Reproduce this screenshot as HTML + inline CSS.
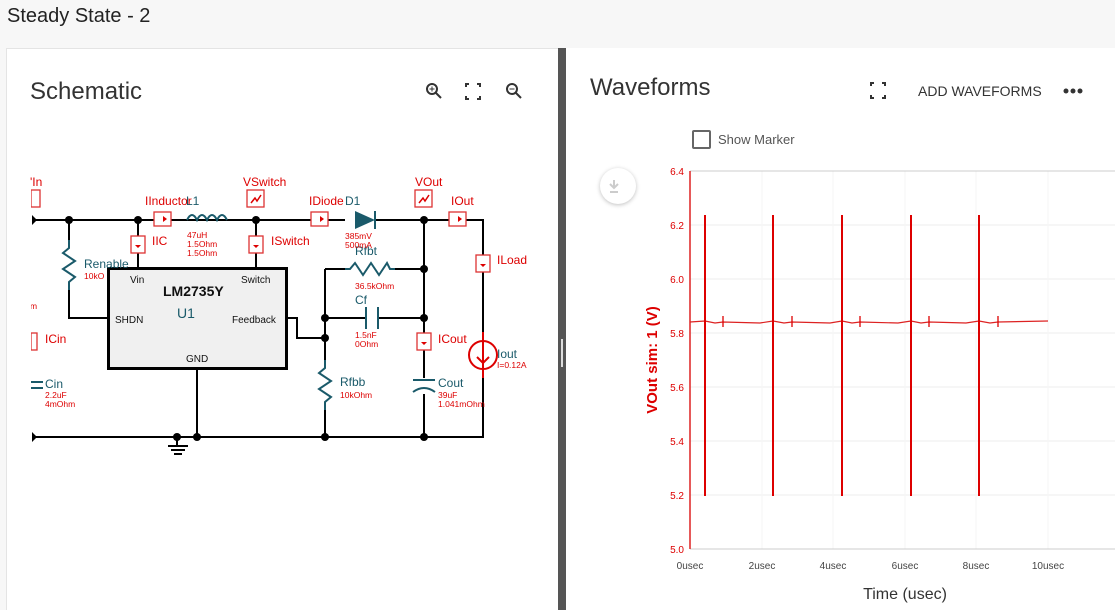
<!DOCTYPE html>
<html><head><meta charset="utf-8"><style>
*{margin:0;padding:0;box-sizing:border-box}
body{width:1115px;height:610px;background:#f7f7f7;font-family:"Liberation Sans",sans-serif;position:relative;overflow:hidden}
.t{position:absolute;white-space:nowrap}
</style></head><body>
<div class="t" style="left:7px;top:5px;font-size:20px;color:#222">Steady State - 2</div>
<div style="position:absolute;left:6px;top:48px;width:552px;height:562px;background:#fff;border-top:1px solid #e4e4e4;border-left:1px solid #e4e4e4"></div>
<div style="position:absolute;left:558px;top:48px;width:8px;height:562px;background:#555"></div>
<div style="position:absolute;left:561px;top:339px;width:2px;height:28px;background:#ddd"></div>
<div style="position:absolute;left:566px;top:48px;width:549px;height:562px;background:#fff"></div>
<div class="t" style="left:30px;top:78px;font-size:24px;color:#333">Schematic</div>
<div class="t" style="left:590px;top:74px;font-size:24px;color:#333">Waveforms</div>
<div class="t" style="left:918px;top:83px;font-size:14px;color:#333">ADD WAVEFORMS</div>
<div style="position:absolute;left:692px;top:130px;width:19px;height:19px;border:2px solid #666;border-radius:2px"></div>
<div class="t" style="left:718px;top:132px;font-size:13px;color:#555">Show Marker</div>
<div style="position:absolute;left:600px;top:168px;width:36px;height:36px;border-radius:50%;background:#fff;box-shadow:0 1px 4px rgba(0,0,0,.25)"></div>
<svg style="position:absolute;left:0;top:0" width="1115" height="610">
<g fill="#333"><circle cx="1066" cy="91" r="2.5"/><circle cx="1073" cy="91" r="2.5"/><circle cx="1080" cy="91" r="2.5"/></g>
<g stroke="#333" stroke-width="2" fill="none">
<circle cx="432" cy="89" r="5"/><line x1="436" y1="93" x2="441" y2="98"/><line x1="429.5" y1="89" x2="434.5" y2="89" stroke-width="1"/><line x1="432" y1="86.5" x2="432" y2="91.5" stroke-width="1"/>
<circle cx="512" cy="89" r="5"/><line x1="516" y1="93" x2="521" y2="98"/><line x1="509.5" y1="89" x2="514.5" y2="89" stroke-width="1"/>
<path d="M466 87v-3h3M480 87v-3h-3M466 96v3h3M480 96v3h-3"/>
<path d="M871 86v-3h3M885 86v-3h-3M871 95v3h3M885 95v3h-3"/>
</g>
<path d="M614 180v7M610 184l4 4 4-4M610 192h8" stroke="#ccc" stroke-width="2" fill="none"/>
<g stroke="#000" stroke-width="2" fill="none">
<path d="M32 220H345M375 220H483V437H32"/>
<path d="M69 220V240M69 290V318H108"/>
<path d="M138 220V268M256 220V268M197 369V437"/>
<path d="M286 318H297V338H325M325 269V360M325 410V437M325 269H345M395 269H424M325 318H366M378 318H424"/>
<path d="M424 220V378M424 394V437"/>
<path d="M168 446h20M171 450h14M174 454h8M177 437v9"/>
</g>
<rect x="108.5" y="268.5" width="178" height="100" fill="#f0f0f0" stroke="#000" stroke-width="3"/>
<g stroke="#1a5a6a" stroke-width="2" fill="none">
<path d="M69 240v8l-6 5 12 8-12 8 12 8-6 5v8"/>
<path d="M325 360v8l-6 5 12 8-12 8 12 8-6 5v8"/>
<path d="M345 269h5l5-6 8 12 8-12 8 12 8-12 3 6h5"/>
<path d="M366 307v22M378 307v22"/>
<path d="M413 380h22M413 392q11-8 22 0"/>
<path d="M187 220q5-10 10 0q5-10 10 0q5-10 10 0q5-10 10 0"/>
<path d="M31 382h12M31 388h12"/>
</g>
<path d="M355 211v18l20-9z" fill="#1a5a6a"/><path d="M375 211v18" stroke="#1a5a6a" stroke-width="2"/>
<g fill="#000"><circle cx="69" cy="220" r="4"/><circle cx="138" cy="220" r="4"/><circle cx="256" cy="220" r="4"/><circle cx="424" cy="220" r="4"/><circle cx="424" cy="269" r="4"/><circle cx="424" cy="318" r="4"/><circle cx="325" cy="318" r="4"/><circle cx="325" cy="338" r="4"/><circle cx="177" cy="437" r="4"/><circle cx="197" cy="437" r="4"/><circle cx="325" cy="437" r="4"/><circle cx="424" cy="437" r="4"/>
<path d="M32 215l5 5-5 5zM32 432l5 5-5 5z"/></g>
<circle cx="483" cy="355" r="14" fill="#fff" stroke="#d00" stroke-width="2"/>
<path d="M483 332v46M483 343v20M477 357l6 6 6-6" stroke="#d00" stroke-width="2" fill="none"/>
<g stroke="#d33" stroke-width="1.3" fill="#fff">
<rect x="31" y="190" width="9" height="17"/><rect x="247" y="190" width="17" height="17"/><rect x="415" y="190" width="17" height="17"/>
<rect x="154" y="212" width="17" height="14"/><rect x="311" y="212" width="17" height="14"/><rect x="449" y="212" width="17" height="14"/>
<rect x="131" y="236" width="14" height="17"/><rect x="249" y="236" width="14" height="17"/><rect x="476" y="255" width="14" height="17"/><rect x="417" y="333" width="14" height="17"/><rect x="31" y="333" width="6" height="17"/>
</g>
<g fill="#d00"><path d="M163 216l4 3-4 3zM320 216l4 3-4 3zM458 216l4 3-4 3zM135 245l3 3 3-3zM253 245l3 3 3-3zM480 264l3 3 3-3zM421 342l3 3 3-3z"/></g>
<path d="M251 203l4-5 2 3 4-6M419 203l4-5 2 3 4-6" stroke="#d00" stroke-width="1.5" fill="none"/>
<g stroke="#eee" stroke-width="1">
<path d="M690 225H1115M690 279H1115M690 333H1115M690 387H1115M690 441H1115M690 495H1115"/>
</g>
<g stroke="#f5f5f5" stroke-width="1">
<path d="M762 171V549M833 171V549M905 171V549M976 171V549M1048 171V549"/>
</g>
<path d="M690 171H1115M690 549H1115" stroke="#ccc"/>
<path d="M690 171V549" stroke="#d22" stroke-width="1.5"/>
<path d="M690 322L705 321L715 323L723 322L760 323L773 321L784 323L792 322L830 323L842 321L852 323L860 322L898 323L911 321L921 323L929 322L966 323L979 321L990 323L998 322L1048 321" stroke="#d22" stroke-width="1.2" fill="none"/>
<g stroke="#d00" stroke-width="2"><path d="M705 215V496M773 215V496M842 215V496M911 215V496M979 215V496"/></g>
<g stroke="#d00" stroke-width="1.3"><path d="M723 316V327M792 316V327M860 316V327M929 316V327M998 316V327"/></g>
<g font-size="10" fill="#d00" text-anchor="end" font-family="Liberation Sans,sans-serif">
<text x="684" y="175">6.4</text><text x="684" y="229">6.2</text><text x="684" y="283">6.0</text><text x="684" y="337">5.8</text><text x="684" y="391">5.6</text><text x="684" y="445">5.4</text><text x="684" y="499">5.2</text><text x="684" y="553">5.0</text></g>
<g font-size="10" fill="#444" text-anchor="middle" font-family="Liberation Sans,sans-serif">
<text x="690" y="569">0usec</text><text x="762" y="569">2usec</text><text x="833" y="569">4usec</text><text x="905" y="569">6usec</text><text x="976" y="569">8usec</text><text x="1048" y="569">10usec</text></g>
<text x="905" y="599" font-size="16" fill="#333" text-anchor="middle" font-family="Liberation Sans,sans-serif">Time (usec)</text>
<text transform="translate(657 360) rotate(-90)" font-size="15" font-weight="bold" fill="#d00" text-anchor="middle" font-family="Liberation Sans,sans-serif">VOut sim: 1 (V)</text>
<g font-family="Liberation Sans,sans-serif" font-size="12" fill="#d00">
<text x="145" y="205">IInductor</text><text x="243" y="186">VSwitch</text><text x="309" y="205">IDiode</text><text x="415" y="186">VOut</text><text x="451" y="205">IOut</text>
<text x="152" y="245">IIC</text><text x="271" y="245">ISwitch</text><text x="497" y="264">ILoad</text><text x="438" y="343">ICout</text><text x="45" y="343">ICin</text>
</g>
<g font-family="Liberation Sans,sans-serif" font-size="12" fill="#1a5a6a">
<text x="186" y="205">L1</text><text x="345" y="205">D1</text><text x="84" y="268">Renable</text><text x="355" y="255">Rfbt</text><text x="355" y="304">Cf</text><text x="340" y="386">Rfbb</text><text x="438" y="387">Cout</text><text x="497" y="358">Iout</text><text x="45" y="388">Cin</text>
</g>
<g font-family="Liberation Sans,sans-serif" font-size="8.5" fill="#d00">
<text x="187" y="238">47uH</text><text x="187" y="247">1.5Ohm</text><text x="187" y="256">1.5Ohm</text>
<text x="345" y="239">385mV</text><text x="345" y="248">500mA</text><text x="355" y="289">36.5kOhm</text>
<text x="355" y="338">1.5nF</text><text x="355" y="347">0Ohm</text><text x="340" y="398">10kOhm</text>
<text x="438" y="398">39uF</text><text x="438" y="407">1.041mOhm</text><text x="497" y="368">I=0.12A</text>
<text x="84" y="279">10kO</text><text x="30" y="309">m</text><text x="45" y="398">2.2uF</text><text x="45" y="407">4mOhm</text>
</g>
<g font-family="Liberation Sans,sans-serif" fill="#111">
<text x="130" y="283" font-size="10">Vin</text><text x="241" y="283" font-size="10">Switch</text>
<text x="115" y="323" font-size="10">SHDN</text><text x="232" y="323" font-size="10">Feedback</text><text x="186" y="362" font-size="10">GND</text>
<text x="163" y="296" font-size="14" font-weight="bold">LM2735Y</text>
</g>
<text x="177" y="318" font-size="14" fill="#1a5a6a" font-family="Liberation Sans,sans-serif">U1</text>
<rect x="7" y="49" width="24" height="561" fill="#fff"/>
<text x="30" y="186" font-size="12" fill="#d00" font-family="Liberation Sans,sans-serif">'In</text>
</svg>
</body></html>
